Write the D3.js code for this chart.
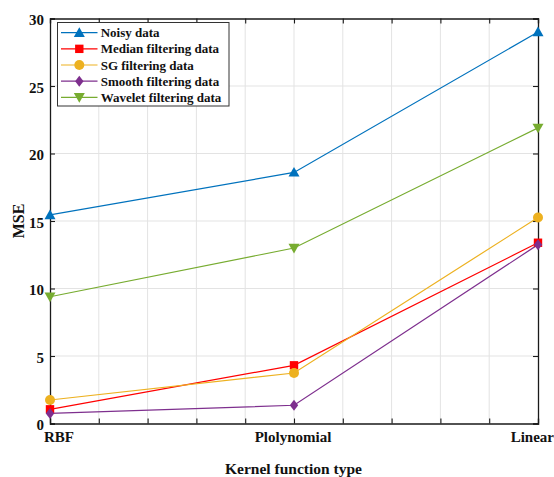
<!DOCTYPE html>
<html>
<head>
<meta charset="utf-8">
<script src="https://cdn.jsdelivr.net/npm/d3@7"></script>
<style>
  body { margin: 0; background: #fff; }
</style>
</head>
<body>
<svg id="chart" width="554" height="477"></svg>
<script>
// ---- data ----
const categories = ["RBF", "Plolynomial", "Linear"];
const noisy    = [15.45, 18.6, 29.0];
const median   = [1.05, 4.31, 13.39];
const sg       = [1.74, 3.74, 15.26];
const smooth   = [0.75, 1.35, 13.25];
const wavelet  = [9.39, 13.0, 21.9];
const seriesNames = ["Noisy data", "Median filtering data", "SG filtering data", "Smooth filtering data", "Wavelet filtering data"];
const yTicks = [0, 5, 10, 15, 20, 25, 30];
const xLabel = "Kernel function type";
const yLabel = "MSE";

const seriesValues = [noisy, median, sg, smooth, wavelet];
const colors = ["#0072BD", "#FF0000", "#EDB120", "#7E2F8E", "#77AC30"];
const markers = ["triangle", "square", "circle", "diamond", "triangleDown"];
const FONT = "'Liberation Serif', 'Times New Roman', Times, 'DejaVu Serif', serif";

// ---- layout ----
const svg = d3.select("#chart");
const L = 50, R = 538, T = 18.5, B = 423.5;
const x = d3.scaleLinear().domain([0, categories.length - 1]).range([L, R]);
const y = d3.scaleLinear().domain([0, 30]).range([B, T]);
const xGrid = d3.range(0, 11).map(i => i * (categories.length - 1) / 10);

function styleText(sel, size) {
  sel.style("font-family", FONT).style("font-weight", "bold")
     .style("font-size", size + "px").style("fill", "#111");
  return sel;
}

// grid
const g = svg.append("g");
g.selectAll(".vg").data(xGrid.slice(1, -1)).enter().append("line")
  .attr("x1", d => x(d)).attr("x2", d => x(d)).attr("y1", T).attr("y2", B)
  .attr("stroke", "#e3e3e3").attr("stroke-width", 1);
g.selectAll(".hg").data(yTicks.slice(1, -1)).enter().append("line")
  .attr("x1", L).attr("x2", R).attr("y1", d => y(d)).attr("y2", d => y(d))
  .attr("stroke", "#e3e3e3").attr("stroke-width", 1);

// axes (box with inward ticks)
const tickLen = 5;
const axisColor = "#1a1a1a";
const xb = svg.append("g").attr("transform", `translate(0,${B})`)
  .call(d3.axisBottom(x).tickValues(xGrid).tickSize(-tickLen).tickFormat(""));
const xt = svg.append("g").attr("transform", `translate(0,${T})`)
  .call(d3.axisTop(x).tickValues(xGrid).tickSize(-tickLen).tickFormat(""));
const yl = svg.append("g").attr("transform", `translate(${L},0)`)
  .call(d3.axisLeft(y).tickValues(yTicks).tickSize(-tickLen).tickPadding(6));
const yr = svg.append("g").attr("transform", `translate(${R},0)`)
  .call(d3.axisRight(y).tickValues(yTicks).tickSize(-tickLen).tickFormat(""));
[xb, xt, yl, yr].forEach(a => {
  a.attr("font-family", null);
  a.select(".domain").attr("stroke", axisColor).attr("stroke-width", 1.3);
  a.selectAll(".tick line").attr("stroke", axisColor).attr("stroke-width", 1.1);
});
styleText(yl.selectAll(".tick text"), 15).attr("dy", "0.42em");

// x category labels (last one right-aligned to the picture edge, as in the reference)
const labelDx = [9, -1, 16];
const labelAnchor = ["middle", "middle", "end"];
styleText(svg.append("g").selectAll("text").data(categories).enter().append("text")
  .attr("x", (d, i) => x(i) + labelDx[i]).attr("y", 442)
  .attr("text-anchor", (d, i) => labelAnchor[i]).text(d => d), 15);

// axis titles
styleText(svg.append("text").attr("x", 293.5).attr("y", 473.5).attr("text-anchor", "middle")
  .text(xLabel), 15.5);
styleText(svg.append("text").attr("transform", `translate(23.5,${(T + B) / 2}) rotate(-90)`)
  .attr("text-anchor", "middle").text(yLabel), 16);

// marker drawing
function drawMarker(sel, type, color, s) {
  if (type === "circle") {
    sel.append("circle").attr("r", s * 0.5).attr("fill", color);
  } else {
    let p;
    if (type === "triangle") p = [[0, -s * 0.55], [s * 0.55, s * 0.42], [-s * 0.55, s * 0.42]];
    if (type === "triangleDown") p = [[0, s * 0.55], [s * 0.55, -s * 0.42], [-s * 0.55, -s * 0.42]];
    if (type === "square") p = [[-s * 0.42, -s * 0.42], [s * 0.42, -s * 0.42], [s * 0.42, s * 0.42], [-s * 0.42, s * 0.42]];
    if (type === "diamond") p = [[0, -s * 0.55], [s * 0.42, 0], [0, s * 0.55], [-s * 0.42, 0]];
    sel.append("path").attr("d", "M" + p.map(q => q.join(",")).join("L") + "Z").attr("fill", color);
  }
}

// series lines and markers
const line = d3.line().x((d, i) => x(i)).y(d => y(d));
seriesValues.forEach((vals, k) => {
  svg.append("path").datum(vals).attr("d", line)
    .attr("fill", "none").attr("stroke", colors[k]).attr("stroke-width", 1.2);
});
seriesValues.forEach((vals, k) => {
  vals.forEach((v, i) => {
    const m = svg.append("g").attr("transform", `translate(${x(i)},${y(v)})`);
    drawMarker(m, markers[k], colors[k], 10);
  });
});

// legend
const lg = svg.append("g");
lg.append("rect").attr("x", 57.5).attr("y", 22.5).attr("width", 171.5).attr("height", 83.5)
  .attr("fill", "#fff").attr("stroke", "#333").attr("stroke-width", 1);
seriesNames.forEach((name, k) => {
  const yy = 32.7 + k * 16.15;
  lg.append("line").attr("x1", 61).attr("x2", 97.5).attr("y1", yy).attr("y2", yy)
    .attr("stroke", colors[k]).attr("stroke-width", 1.2);
  const m = lg.append("g").attr("transform", `translate(79.3,${yy})`);
  drawMarker(m, markers[k], colors[k], 10);
  styleText(lg.append("text").attr("x", 100.7).attr("y", yy).attr("dy", "0.35em")
    .text(name), 13);
});
</script>
</body>
</html>
